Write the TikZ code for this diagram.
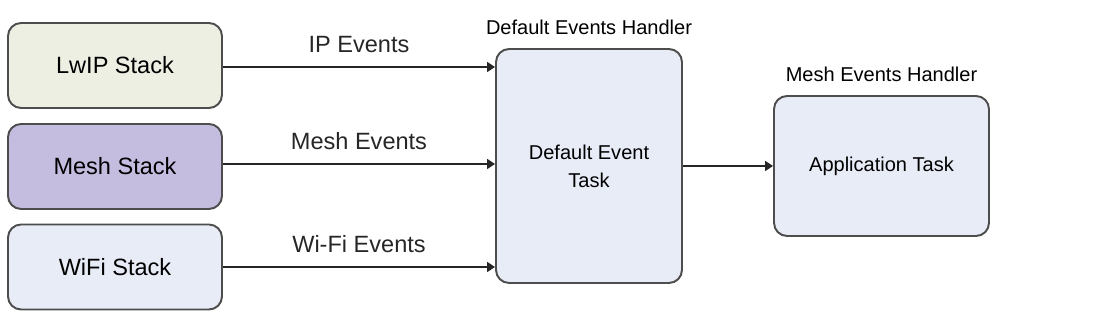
\documentclass[tikz,border=0pt]{standalone}
\usepackage{fontspec}
\setmainfont{Liberation Sans}
\usetikzlibrary{arrows.meta}
\definecolor{lineGray}{HTML}{4D4D4D}
\definecolor{lwipFill}{HTML}{EDEFE3}
\definecolor{meshFill}{HTML}{C4BDDF}
\definecolor{taskFill}{HTML}{E8ECF6}
\begin{document}
\begin{tikzpicture}[x=0.02cm,y=0.02cm,
  stackbox/.style={draw=lineGray,line width=1.1pt,rounded corners=0.26cm,minimum width=4.28cm,minimum height=1.7cm,inner sep=0pt,font=\fontsize{13.4}{16}\selectfont},
  taskbox/.style={draw=lineGray,line width=1.1pt,rounded corners=0.26cm,fill=taskFill,inner sep=0pt,align=center,font=\fontsize{11.4}{15.9}\selectfont},
  flow/.style={-{Triangle[length=0.16cm,width=0.2cm]},line width=0.85pt,black!85},
  evlabel/.style={font=\fontsize{13.4}{16}\selectfont,above,inner sep=0pt,yshift=0.28cm},
  handler/.style={font=\fontsize{11.4}{14}\selectfont,above,inner sep=0pt,yshift=0.26cm}]
\useasboundingbox (0,0) rectangle (1102,320);
% event sources
\node[stackbox,fill=lwipFill] (lwip) at (115,254.5) {LwIP Stack};
\node[stackbox,fill=meshFill] (mesh) at (115,153.5) {Mesh Stack};
\node[stackbox,fill=taskFill] (wifi) at (115,53) {WiFi Stack};
% handlers
\node[taskbox,minimum width=3.72cm,minimum height=4.68cm] (deftask) at (589,154) {Default Event\\Task};
\node[taskbox,minimum width=4.3cm,minimum height=2.8cm] (apptask) at (881.5,154) {Application Task};
\node[handler] (defname) at (deftask.north) {Default Events Handler};
\node[handler] (appname) at (apptask.north) {Mesh Events Handler};
% events
\draw[flow] (lwip.east|-0,253) -- node[evlabel] {IP Events} (deftask.west|-0,253);
\draw[flow] (mesh.east|-0,156) -- node[evlabel] {Mesh Events} (deftask.west|-0,156);
\draw[flow] (wifi.east|-0,53) -- node[evlabel] {Wi-Fi Events} (deftask.west|-0,53);
\draw[flow] (deftask.east|-0,154) -- (apptask.west|-0,154);
\end{tikzpicture}
\end{document}
